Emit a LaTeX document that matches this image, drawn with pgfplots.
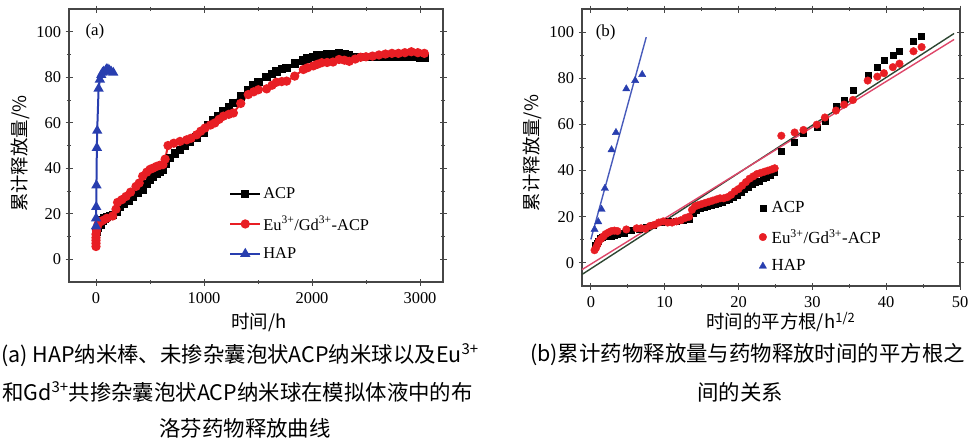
\documentclass[border=0pt]{standalone}
\usepackage{pgfplots}
\pgfplotsset{compat=1.18}
\usepackage{fontspec}
\setmainfont{Liberation Serif}
\newfontfamily\cjk{Noto Sans CJK SC}

\definecolor{acpred}{RGB}{232,30,36}
\definecolor{hapblue}{RGB}{40,62,175}
\definecolor{fitdark}{RGB}{45,70,50}
\definecolor{fitpink}{RGB}{222,70,105}
\definecolor{frame}{RGB}{70,70,70}

\pgfplotsset{
  panel/.style={
    scale only axis,
    axis line style={draw=frame, line width=1.6bp},
    tick style={draw=frame, line width=1bp},
    tick align=center,
    major tick length=7bp,
    minor tick length=4bp,
    minor x tick num=1,
    minor y tick num=1,
    ymin=-10, ymax=110,
    ytick={0,20,40,60,80,100},
    /pgf/number format/assume math mode=true,
    /pgf/number format/1000 sep={},
    ticklabel style={font=\fontsize{16.5}{16.5}\selectfont},
    xticklabel style={yshift=-4bp},
    yticklabel style={xshift=-1bp},
    label style={font=\cjk\fontsize{18.5}{18.5}\selectfont},
    clip=false,
  },
}

\begin{document}
\begin{tikzpicture}
\useasboundingbox (0bp,0bp) rectangle (969bp,-444bp);
\clip (0bp,0bp) rectangle (969bp,-444bp);

% ---------- (a) release curves
\begin{axis}[panel,
    at={(69bp,-282bp)}, anchor=south west,
    width=374bp, height=273bp,
    xmin=-250, xmax=3213,
    xtick={0,1000,2000,3000},
    xlabel={时间/h},
    ylabel={累计释放量/\%},
    xlabel style={at={(axis description cs:0.508,-0.147)}, anchor=center},
    ylabel style={at={(axis description cs:-0.131,0.47)}, anchor=center, rotate=0},
    legend style={at={(0.42,0.36)}, anchor=north west, draw=none, fill=none,
      font=\fontsize{16.5}{17}\selectfont, row sep=12bp},
    legend cell align=left,
    legend image code/.code={\draw[mark repeat=2,mark phase=2] plot coordinates {(0bp,0bp) (15bp,0bp) (30bp,0bp)};},
  ]
  \addplot[black, line width=2bp, mark=square*, mark size=3.2bp] coordinates {
    (0,10) (5,12) (10,13) (20,14) (40,15) (60,17) (80,18) (100,18.5) (130,19)
    (160,19.5) (190,21) (222,23) (260,24.5) (300,25.5) (345,27.5) (390,29)
    (435,30.5) (470,33) (500,35) (528,36.4) (560,37.5) (590,38.3) (620,39.3)
    (650,42) (685,44.5) (730,46.5) (778,48) (820,50) (870,51.8) (930,53.5)
    (994,55.5) (1040,59) (1086,61.3) (1130,63) (1179,65) (1230,67) (1272,68.7)
    (1340,71.5) (1410,74.5) (1460,76.5) (1503,78) (1580,80) (1630,81.5)
    (1670,82.5) (1720,83.5) (1765,84) (1840,86) (1920,87.4) (1960,88.2)
    (2012,89) (2050,89.5) (2090,89.9) (2140,90) (2195,90) (2250,90.5)
    (2300,90) (2345,89.6) (2400,89) (2450,89) (2500,88.8) (2550,89)
    (2600,88.8) (2650,89) (2700,89.2) (2750,89) (2800,88.8) (2850,89)
    (2900,89) (2950,88.8) (3000,88.5) (3040,88.5)
  };
  \addlegendentry{ACP}
  \addplot[acpred, line width=2bp, mark=*, mark size=3.6bp] coordinates {
    (0,5.6) (0,7) (0,8.3) (0,9.5) (0,11) (5,12.5) (10,14) (20,15.5) (40,16.5)
    (62,17) (100,18) (154,19) (185,22) (200,25) (240,26.2) (278,27.6)
    (320,29.5) (370,32) (400,33.5) (432,36.5) (470,38.3) (500,39.5) (525,40)
    (560,40.8) (590,41.3) (620,41.6) (640,44) (667,50) (720,51) (778,51.8)
    (840,52.5) (880,53.2) (932,54.7) (970,56.3) (1010,57.7) (1060,59)
    (1100,59.9) (1140,61.5) (1180,62.9) (1230,63.7) (1272,64.3) (1340,68.5)
    (1410,72.4) (1460,73.6) (1503,74.5) (1580,74.9) (1630,76.5) (1670,77.8)
    (1720,78.1) (1765,78.3) (1840,80.5) (1920,83.4) (1960,84.2) (2012,85)
    (2050,85.7) (2090,86.4) (2140,86.5) (2195,86.7) (2250,87.8) (2300,87.5)
    (2345,87) (2400,88) (2450,88.8) (2500,89) (2560,89.3) (2620,89.8)
    (2680,90.2) (2740,90.5) (2800,90.5) (2860,90.8) (2920,91.2) (2980,90.8)
    (3040,90.5)
  };
  \addlegendentry{Eu\textsuperscript{3+}/Gd\textsuperscript{3+}-ACP}
  \addplot[hapblue, line width=2bp, mark=triangle*, mark size=4bp] coordinates {
    (0,14.5) (1,18) (2,23) (4,32.5) (8,49) (11,56.5) (24,75) (36,79) (49,81)
    (60,82) (72,82.5) (96,83.5) (110,83.5) (125,83) (140,82.5) (160,82)
  };
  \addlegendentry{HAP}
  \node[font=\fontsize{17}{17}\selectfont] at (axis cs:-10,100) {(a)};
\end{axis}

% ---------- (b) release vs square root of time
\begin{axis}[panel,
    at={(582bp,-286bp)}, anchor=south west,
    width=378bp, height=277bp,
    xmin=-1.2, xmax=50,
    xtick={0,10,20,30,40,50},
    xlabel={时间的平方根/h\textsuperscript{1/2}},
    ylabel={累计释放量/\%},
    xlabel style={at={(axis description cs:0.526,-0.13)}, anchor=center},
    ylabel style={at={(axis description cs:-0.132,0.48)}, anchor=center, rotate=0},
    legend style={at={(0.46,0.32)}, anchor=north west, draw=none, fill=none,
      font=\fontsize{17}{17}\selectfont, row sep=11bp,
      /tikz/every odd column/.append style={column sep=3bp}},
    legend cell align=left,
  ]
  \addplot[only marks, mark=square*, mark size=3bp, black] coordinates {
    (0.6,7.5) (0.8,8.5) (1.0,9.5) (1.3,10.5) (1.6,11) (2.0,11.5) (2.4,12)
    (2.8,11.5) (3.2,12) (3.6,12.5) (4.5,13) (5.5,14) (6.5,14.5) (7.5,15.5)
    (8.5,16.5) (9.5,17.5) (10.5,18) (11.5,18) (12.5,18.5) (13.3,19)
    (13.8,21.5) (14.3,23) (14.8,23.5) (15.3,24) (15.8,24.5) (16.3,25)
    (16.8,25.5) (17.3,26) (17.8,26.5) (18.3,27) (18.8,27.5) (19.3,28.5)
    (19.8,29.5) (20.3,30.5) (20.8,32) (21.3,33) (21.8,34) (22.3,35)
    (22.8,35.5) (23.3,36.5) (23.8,37) (24.3,38) (24.8,39.5)
    (25.8,48.3) (27.6,52.5) (28.8,56) (30.6,58.7) (31.7,61.3) (33.2,67.7)
    (34.3,70.6) (35.5,75) (37.5,81.2) (38.8,85) (39.7,87.7) (40.9,89.9)
    (41.8,91.6) (43.7,96.1) (44.8,98.1)
  };
  \addlegendentry{ACP}
  \addplot[only marks, mark=*, mark size=3.8bp, acpred] coordinates {
    (0.5,5.5) (0.7,6.5) (0.9,8) (1.1,9.5) (1.4,10.5) (1.7,11.5) (2.0,12.5)
    (2.4,13.2) (2.8,13.8) (3.2,14) (3.6,13.8) (4.8,14.5) (6.2,15) (6.8,15)
    (7.4,14.8) (8.0,16) (8.6,16.5) (9.2,17.5) (9.8,18) (10.4,17.5) (11.0,17.5)
    (11.6,18) (12.2,18.5) (12.8,19.5) (13.3,20) (13.7,23) (14.1,24.5)
    (14.5,25) (15.0,25.5) (15.5,26) (16.0,26.5) (16.5,27) (17.0,27.5)
    (17.5,28) (18.0,28) (18.5,28.5) (19.0,29.5) (19.5,31) (20.0,32)
    (20.5,33.5) (21.0,35) (21.5,36.5) (22.0,37.5) (22.5,38.5) (23.0,39)
    (23.5,39.5) (24.0,40) (24.5,40.5) (24.9,41)
    (25.8,55.1) (27.6,56.5) (28.8,57.6) (30.6,59.9) (31.7,63) (33.2,66)
    (34.3,68.6) (35.5,70.6) (37.5,79) (38.8,80.7) (39.7,82.2) (40.9,84.8)
    (41.8,86.3) (43.7,91.7) (44.8,93.5)
  };
  \addlegendentry{Eu\textsuperscript{3+}/Gd\textsuperscript{3+}-ACP}
  \addplot[only marks, mark=triangle*, mark size=4.2bp, hapblue] coordinates {
    (0.5,14.5) (1.0,17.8) (1.45,23.2) (1.9,32.3) (2.8,49) (3.4,56.5)
    (4.8,75.4) (6.0,79) (6.95,81.6)
  };
  \addlegendentry{HAP}
  \addplot[hapblue!85!white, line width=1.4bp, forget plot] coordinates {(0,10.2) (7.5,97.8)};
  \addplot[fitdark, line width=1.4bp, forget plot] coordinates {(-1.2,-5) (49.2,99.4)};
  \addplot[fitpink, line width=1.4bp, forget plot] coordinates {(-1.2,-2.9) (49.2,96.8)};
  \node[font=\fontsize{17}{17}\selectfont] at (axis cs:2,100) {(b)};
\end{axis}

% ---------- captions
\begin{scope}[every node/.style={font=\cjk\fontsize{21.5}{22}\selectfont, inner sep=0pt}]
  \node[anchor=west] at (1bp,-355bp) {(a) HAP纳米棒、未掺杂囊泡状ACP纳米球以及Eu\textsuperscript{3+}};
  \node[anchor=east] at (473bp,-392bp) {和Gd\textsuperscript{3+}共掺杂囊泡状ACP纳米球在模拟体液中的布};
  \node[anchor=center] at (245bp,-428bp) {洛芬药物释放曲线};
  \node[anchor=west] at (530bp,-355bp) {(b)累计药物释放量与药物释放时间的平方根之};
  \node[anchor=center] at (740bp,-392bp) {间的关系};
\end{scope}
\end{tikzpicture}
\end{document}
